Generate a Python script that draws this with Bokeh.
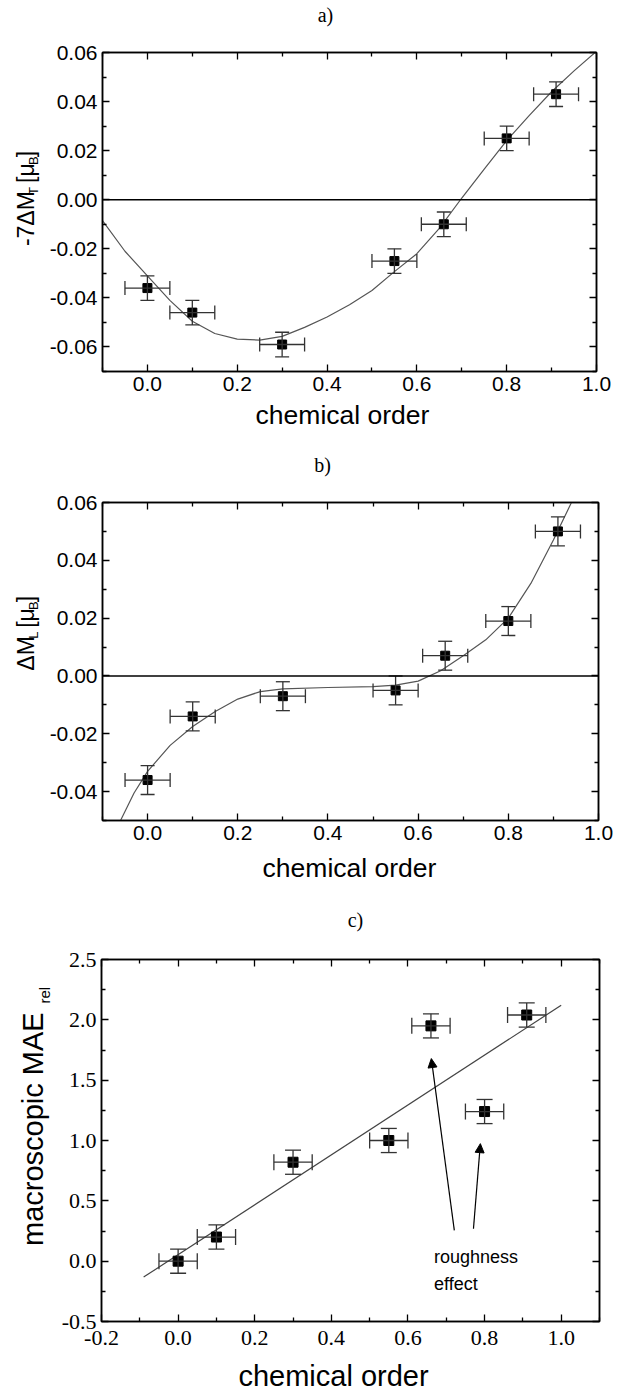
import math
from bokeh.plotting import figure
from bokeh.layouts import column, row
from bokeh.models import (ColumnDataSource, Whisker, TeeHead, Span, Label, LinearAxis,
                          FixedTicker, Range1d, Arrow, NormalHead)
from bokeh.embed import file_html
from bokeh.resources import INLINE

# ---------------- data ----------------
order = [0.0, 0.1, 0.3, 0.55, 0.66, 0.8, 0.91]
order_err = [0.05, 0.05, 0.05, 0.05, 0.05, 0.05, 0.05]

# panel a: -7 dM_T
dMT = [-0.036, -0.046, -0.059, -0.025, -0.010, 0.025, 0.043]
dMT_err = [0.005, 0.005, 0.005, 0.005, 0.005, 0.005, 0.005]
fitA_x = [-0.1, -0.05, 0.0, 0.05, 0.1, 0.15, 0.2, 0.25, 0.3, 0.35, 0.4, 0.45, 0.5,
          0.55, 0.6, 0.65, 0.7, 0.75, 0.8, 0.85, 0.9, 0.95, 1.0]
fitA_y = [-0.0085, -0.021, -0.031, -0.041, -0.0495, -0.0545, -0.0568, -0.0572, -0.0557,
          -0.052, -0.0478, -0.0428, -0.037, -0.0293, -0.022, -0.0117, 0.0007, 0.0125,
          0.0241, 0.0343, 0.0440, 0.0525, 0.0605]

# panel b: dM_L
dML = [-0.036, -0.014, -0.007, -0.005, 0.007, 0.019, 0.050]
dML_err = [0.005, 0.005, 0.005, 0.005, 0.005, 0.005, 0.005]
fitB_x = [-0.06, -0.03, 0.0, 0.05, 0.1, 0.15, 0.2, 0.25, 0.3, 0.4, 0.5, 0.55, 0.6,
          0.65, 0.7, 0.75, 0.8, 0.85, 0.9, 0.94]
fitB_y = [-0.050, -0.0405, -0.033, -0.024, -0.0175, -0.0123, -0.0080, -0.0054, -0.0045,
          -0.0040, -0.0037, -0.0032, -0.0018, 0.0018, 0.0070, 0.0125, 0.020, 0.032,
          0.047, 0.060]

# panel c: macroscopic MAE_rel
mae = [0.0, 0.2, 0.82, 1.0, 1.95, 1.24, 2.04]
mae_err = [0.1, 0.1, 0.1, 0.1, 0.1, 0.1, 0.1]
fitC_x = [-0.09, 1.0]
fitC_y = [-0.132, 2.121]
arrow_tail_x = [0.721, 0.771]
arrow_tail_y = [0.255, 0.269]
arrow_head_x = [0.661, 0.789]
arrow_head_y = [1.679, 0.974]

# ---------------- ticks ----------------
ab_xticks = [0.0, 0.2, 0.4, 0.6, 0.8, 1.0]
ab_xlabels = ["0.0", "0.2", "0.4", "0.6", "0.8", "1.0"]
ab_xminor = [-0.1, 0.1, 0.3, 0.5, 0.7, 0.9]
a_yticks = [-0.06, -0.04, -0.02, 0.0, 0.02, 0.04, 0.06]
a_ylabels = ["-0.06", "-0.04", "-0.02", "0.00", "0.02", "0.04", "0.06"]
a_yminor = [-0.07, -0.05, -0.03, -0.01, 0.01, 0.03, 0.05]
b_yticks = [-0.04, -0.02, 0.0, 0.02, 0.04, 0.06]
b_ylabels = ["-0.04", "-0.02", "0.00", "0.02", "0.04", "0.06"]
b_yminor = [-0.05, -0.03, -0.01, 0.01, 0.03, 0.05]
c_xticks = [-0.2, 0.0, 0.2, 0.4, 0.6, 0.8, 1.0]
c_xlabels = ["-0.2", "0.0", "0.2", "0.4", "0.6", "0.8", "1.0"]
c_xminor = [-0.1, 0.1, 0.3, 0.5, 0.7, 0.9, 1.1]
c_yticks = [-0.5, 0.0, 0.5, 1.0, 1.5, 2.0, 2.5]
c_ylabels = ["-0.5", "0.0", "0.5", "1.0", "1.5", "2.0", "2.5"]
c_yminor = [-0.25, 0.25, 0.75, 1.25, 1.75, 2.25]

SANS = "Liberation Sans"
SERIF = "Liberation Serif"
ERR = "#333333"
FIT = "#555555"
PAGE_W = 628
# em-box middle above the baseline, in em
MID = {SANS: (0.905 - 0.212) / 2, SERIF: (0.891 - 0.216) / 2}


# ---------------- helpers ----------------
def chart_fig(w, h, bl, br, bt, bb, xr, yr):
    p = figure(width=w, height=h, x_range=Range1d(*xr), y_range=Range1d(*yr),
               output_backend="svg", toolbar_location=None,
               min_border_left=bl, min_border_right=br,
               min_border_top=bt, min_border_bottom=bb)
    p.xgrid.visible = False
    p.ygrid.visible = False
    p.outline_line_color = "black"
    p.outline_line_width = 1.5
    p.background_fill_color = "white"
    p.border_fill_color = "white"
    return p


class TextFig:
    """A bare figure that only holds texts; coordinates given in page pixels.
    Texts are placed by their baseline (converted to a middle anchor)."""

    def __init__(self, left_abs, top_abs, w, h):
        self.left, self.top, self.w, self.h = left_abs, top_abs, w, h
        p = figure(width=w, height=h, x_range=Range1d(0, w), y_range=Range1d(0, h),
                   x_axis_location=None, y_axis_location=None, min_border=0,
                   output_backend="svg", toolbar_location=None)
        p.grid.visible = False
        p.outline_line_color = None
        p.background_fill_color = "white"
        p.border_fill_color = "white"
        self.p = p

    def text(self, t, ax, ay, size, font=SANS, align="center", vertical=False):
        m = MID[font] * size
        if vertical:
            ax, angle = ax - m, math.pi / 2
        else:
            ay, angle = ay - m, 0.0
        self.p.add_layout(Label(x=ax - self.left, y=self.h - (ay - self.top), text=t,
                                text_align=align, text_baseline="middle",
                                text_font=font, text_font_size=f"{size}px",
                                text_color="black", angle=angle))


def style_axis(ax, ticks, minor, labels, font, size, show=True, standoff=5):
    ax.ticker = FixedTicker(ticks=ticks, minor_ticks=minor)
    ax.major_label_overrides = dict(zip(ticks, labels))
    ax.axis_line_color = "black"
    ax.axis_line_width = 1.5
    ax.major_tick_in = 7
    ax.major_tick_out = 0
    ax.minor_tick_in = 4
    ax.minor_tick_out = 0
    ax.major_tick_line_color = "black"
    ax.minor_tick_line_color = "black"
    ax.major_tick_line_width = 1.3
    ax.minor_tick_line_width = 1.3
    ax.major_label_text_font = font
    if show:
        ax.major_label_text_color = "black"
        ax.major_label_text_font_size = size
        ax.major_label_standoff = standoff
    else:
        ax.major_label_text_color = None
        ax.major_label_text_font_size = "0px"
        ax.major_label_standoff = 0
    ax.axis_label = None


def setup_axes(p, xt, xm, xl, yt, ym, yl, font, size, xstand=5, ystand=5):
    style_axis(p.xaxis[0], xt, xm, xl, font, size, True, xstand)
    style_axis(p.yaxis[0], yt, ym, yl, font, size, True, ystand)
    top = LinearAxis()
    style_axis(top, xt, xm, xl, font, size, False)
    p.add_layout(top, "above")
    right = LinearAxis()
    style_axis(right, yt, ym, yl, font, size, False)
    p.add_layout(right, "right")


def add_points(p, xs, ys, xe, ye, cap, msize):
    src = ColumnDataSource(dict(
        x=xs, y=ys,
        xl=[a - e for a, e in zip(xs, xe)], xu=[a + e for a, e in zip(xs, xe)],
        yl=[a - e for a, e in zip(ys, ye)], yu=[a + e for a, e in zip(ys, ye)]))
    for dim, base, lo, hi in (("height", "x", "yl", "yu"), ("width", "y", "xl", "xu")):
        p.add_layout(Whisker(source=src, base=base, lower=lo, upper=hi, dimension=dim,
                             line_color=ERR, line_width=1.3, level="glyph",
                             lower_head=TeeHead(size=cap, line_color=ERR, line_width=1.3),
                             upper_head=TeeHead(size=cap, line_color=ERR, line_width=1.3)))
    p.scatter("x", "y", source=src, marker="square", size=msize,
              fill_color="black", line_color="black")


WID = {'-': 0.333, '7': 0.556, 'Δ': 0.668, 'M': 0.833, 'T': 0.611, ' ': 0.278,
       '[': 0.278, 'μ': 0.576, 'B': 0.667, ']': 0.278, 'L': 0.556}


def tw(s, size):
    return sum(WID[c] for c in s) * size


def vlabel(tf, pieces, base_x, center_y):
    """Rotated label built from pieces (text, size, baseline shift in px)."""
    total = sum(tw(t, s) for t, s, _ in pieces)
    y = center_y + total / 2
    for t, s, off in pieces:
        w = tw(t, s)
        if t.strip():
            tf.text(t, base_x + off, y - w / 2, s, vertical=True)
        y -= w


# ---------------- panel a ----------------
ta = TextFig(0, 0, PAGE_W, 38)
ta.text("a)", 325, 21, 20, font=SERIF)

ya = TextFig(0, 38, 42, 362)
vlabel(ya, [("-7ΔM", 23, 0), ("T", 13, 4), (" ", 23, 0), ("[μ", 23, 0),
            ("B", 13, 4), ("]", 23, 0)], 33.5, 202)

pa = chart_fig(586, 362, 60, 32, 14, 29, (-0.1, 1.0), (-0.07, 0.06))
setup_axes(pa, ab_xticks, ab_xminor, ab_xlabels, a_yticks, a_yminor, a_ylabels, SANS, "21px")
pa.add_layout(Span(location=0, dimension="width", line_color="black", line_width=1.5))
pa.line(fitA_x, fitA_y, line_color=FIT, line_width=1.2)
add_points(pa, order, dMT, order_err, dMT_err, 14, 9)

xa = TextFig(0, 400, PAGE_W, 45)
xa.text("chemical order", 342, 424, 26.5)

# ---------------- panel b ----------------
tb = TextFig(0, 445, PAGE_W, 40)
tb.text("b)", 322, 471.5, 20, font=SERIF)

yb = TextFig(0, 485, 42, 366)
vlabel(yb, [("ΔM", 23, 0), ("L", 13, 4), (" ", 23, 0), ("[μ", 23, 0),
            ("B", 13, 4), ("]", 23, 0)], 33.5, 634.5)

pb = chart_fig(586, 366, 60, 30, 17, 31, (-0.1, 1.0), (-0.05, 0.06))
setup_axes(pb, ab_xticks, ab_xminor, ab_xlabels, b_yticks, b_yminor, b_ylabels, SANS, "21px")
pb.add_layout(Span(location=0, dimension="width", line_color="black", line_width=1.5))
pb.line(fitB_x, fitB_y, line_color=FIT, line_width=1.2)
add_points(pb, order, dML, order_err, dML_err, 14, 9)

xb = TextFig(0, 851, PAGE_W, 44)
xb.text("chemical order", 349, 876.5, 26.5)

# ---------------- panel c ----------------
tc = TextFig(0, 895, PAGE_W, 45)
tc.text("c)", 355, 926, 20, font=SERIF)

yc = TextFig(0, 940, 54, 416)
yc.text("macroscopic MAE", 43, 1135, 29, vertical=True)
yc.text("rel", 49, 981, 15, vertical=True)

pc = chart_fig(574, 416, 47, 29, 19, 35, (-0.2, 1.1), (-0.5, 2.5))
setup_axes(pc, c_xticks, c_xminor, c_xlabels, c_yticks, c_yminor, c_ylabels, SERIF, "22px",
           xstand=9, ystand=5)
pc.line(fitC_x, fitC_y, line_color="#444444", line_width=1.2)
add_points(pc, order, mae, order_err, mae_err, 16, 10)
for x0, y0, x1, y1 in zip(arrow_tail_x, arrow_tail_y, arrow_head_x, arrow_head_y):
    pc.add_layout(Arrow(x_start=x0, y_start=y0, x_end=x1, y_end=y1,
                        line_color="black", line_width=1.2,
                        end=NormalHead(size=9, fill_color="black", line_color="black",
                                       line_width=1)))
pc.add_layout(Label(x=0.668, y=0.034, text="roughness", text_align="left",
                    text_baseline="middle", text_font=SANS, text_font_size="18px",
                    text_color="black"))
pc.add_layout(Label(x=0.668, y=-0.19, text="effect", text_align="left",
                    text_baseline="middle", text_font=SANS, text_font_size="18px",
                    text_color="black"))

xc = TextFig(0, 1356, PAGE_W, 42)
xc.text("chemical order", 333, 1386, 29)

layout = column(
    ta.p, row(ya.p, pa, spacing=0), xa.p,
    tb.p, row(yb.p, pb, spacing=0), xb.p,
    tc.p, row(yc.p, pc, spacing=0), xc.p,
    spacing=0)
open("out.html", "w").write(file_html(layout, INLINE))
